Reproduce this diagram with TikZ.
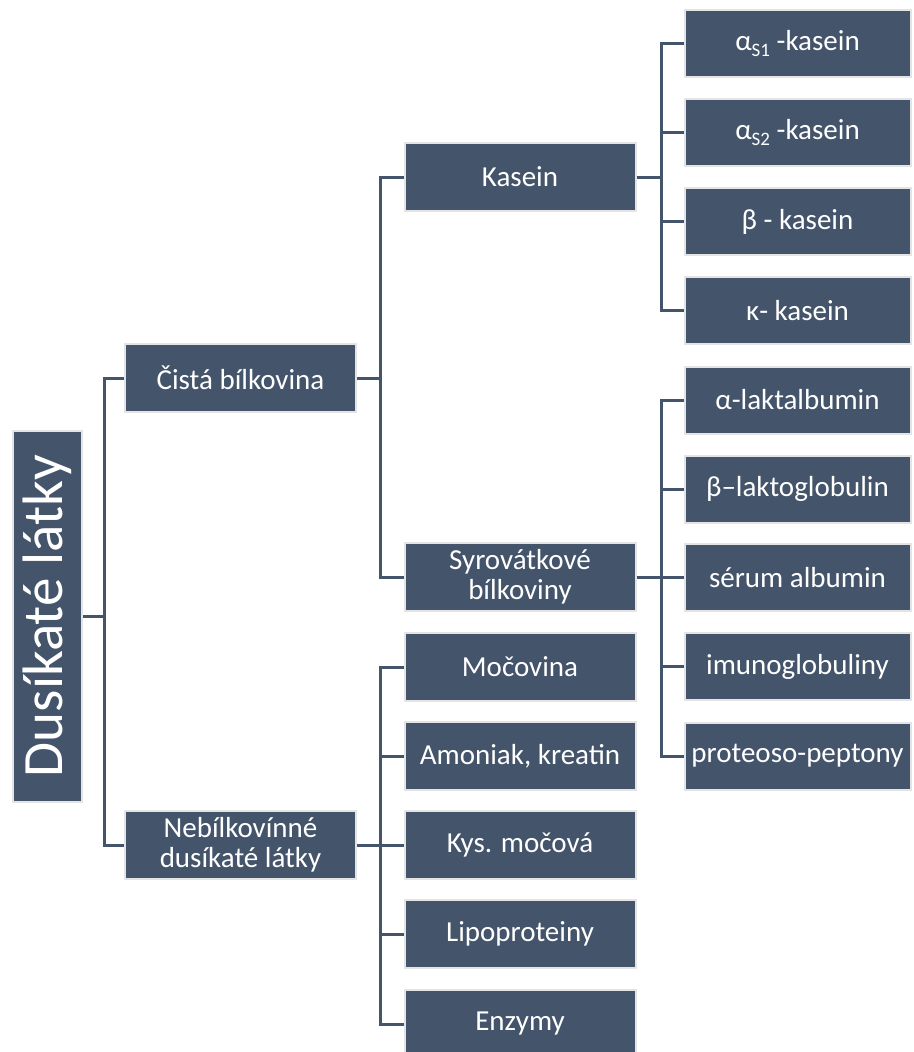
\documentclass[tikz,border=0pt]{standalone}
\usepackage{fontspec}
\setmainfont{Carlito}
\usepackage{xcolor}
\usetikzlibrary{positioning,calc}
\definecolor{slate}{HTML}{44546A}
\definecolor{rim}{HTML}{E4E4E4}
\newcommand{\sub}[1]{\raisebox{-6pt}{\fontsize{19}{19}\selectfont #1}}

\begin{document}
\begin{tikzpicture}[x=1pt, y=-1pt, semithick]
\tikzstyle{box}=[rectangle, fill=slate, draw=rim, line width=2pt, text=white, inner sep=0pt,
  align=center, font=\fontsize{29}{30}\selectfont]
\tikzstyle{midbox}=[box, minimum width=231, minimum height=68]
\tikzstyle{leafbox}=[box, minimum width=226, minimum height=67]
\tikzstyle{link}=[draw=slate, line width=3pt]

\useasboundingbox (0,0) rectangle (913,1052);

% root
\node[box, rotate=90, minimum width=371, minimum height=69, font=\fontsize{57}{60}\selectfont]
  (root) at (47.5,616) {Dusíkaté látky};

% first level
\node[midbox] (cista) at (240.5,378) {Čistá bílkovina};
\node[midbox] (nebil) at (240.5,845) {Nebílkovínné\\dusíkaté látky};

% second level
\node[midbox] (kasein) at (520,177) {Kasein};
\node[midbox] (syro) at (520,577) {Syrovátkové\\bílkoviny};
\node[midbox] (mocov) at (520,667) {Močovina};
\node[midbox] (amon) at (520,756) {Amoniak, kreatin};
\node[midbox] (kys) at (520,845) {Kys. močová};
\node[midbox] (lipo) at (520,934) {Lipoproteiny};
\node[midbox] (enz) at (520,1024) {Enzymy};

% caseins
\node[leafbox] (as1) at (797.5,43.5) {α\sub{S1} -kasein};
\node[leafbox] (as2) at (797.5,132.5) {α\sub{S2} -kasein};
\node[leafbox] (beta) at (797.5,221.5) {β - kasein};
\node[leafbox] (kappa) at (797.5,310.5) {κ- kasein};

% whey proteins
\node[leafbox] (alak) at (797.5,400) {α-laktalbumin};
\node[leafbox] (blak) at (797.5,489) {β–laktoglobulin};
\node[leafbox] (serum) at (797.5,577.5) {sérum albumin};
\node[leafbox] (imuno) at (797.5,666.5) {imunoglobuliny};
\node[leafbox] (prot) at (797.5,756) {proteoso-peptony};

% forks
\coordinate (f0) at (104,616);
\coordinate (f1) at (380,378);
\coordinate (f2) at (380,845);
\coordinate (f3) at (661,177);
\coordinate (f4) at (661,577);

\draw[link] (root.south) -- (f0);
\foreach \n in {cista,nebil} \draw[link] (f0) |- (\n.west);
\draw[link] (cista.east) -- (f1);
\foreach \n in {kasein,syro} \draw[link] (f1) |- (\n.west);
\draw[link] (nebil.east) -- (f2);
\foreach \n in {mocov,amon,kys,lipo,enz} \draw[link] (f2) |- (\n.west);
\draw[link] (kasein.east) -- (f3);
\foreach \n in {as1,as2,beta,kappa} \draw[link] (f3) |- (\n.west);
\draw[link] (syro.east) -- (f4);
\foreach \n in {alak,blak,serum,imuno,prot} \draw[link] (f4) |- (\n.west);
\end{tikzpicture}
\end{document}
